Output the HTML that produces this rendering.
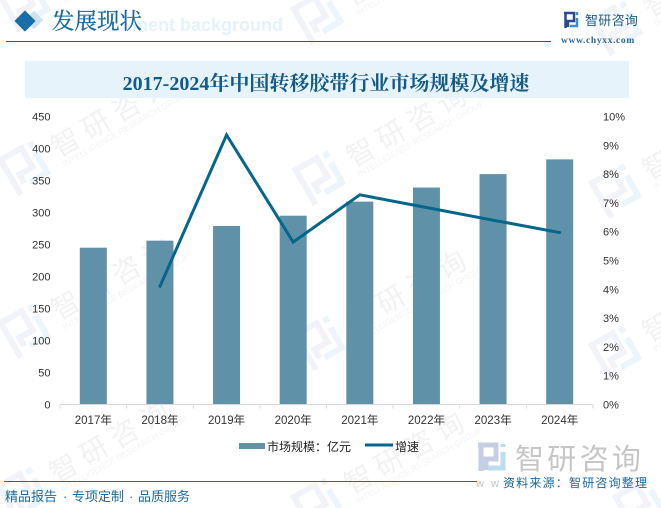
<!DOCTYPE html>
<html lang="zh">
<head>
<meta charset="utf-8">
<title>2017-2024年中国转移胶带行业市场规模及增速</title>
<style>
html,body{margin:0;padding:0;background:#fff;}
#page{position:relative;width:661px;height:508px;overflow:hidden;background:#fff;}
svg{position:absolute;left:0;top:0;}
text{font-family:"Liberation Sans","Noto Sans CJK SC",sans-serif;}
.serif{font-family:"Liberation Serif","Noto Serif CJK SC",serif;}
.tick{font-size:11px;fill:#333;}
.cat{font-size:11.5px;fill:#333;}
</style>
</head>
<body>
<div id="page">
<svg id="chart" width="661" height="508" viewBox="0 0 661 508">
  <defs>
    <g id="wm-logo">
      <path d="M-20 -19H7V3H-8V13M-17 -19V21" fill="none" stroke="#f1f3f8" stroke-width="6"/>
      <path d="M17 -8V15H-3M17 -20V-14" fill="none" stroke="#ecf5fb" stroke-width="6"/>
    </g>
  </defs>
  <g id="watermarks"></g>

  <g>
    <rect x="27.5" y="13.5" width="13" height="13" transform="rotate(45 34 20)" fill="#cfe2ee"/>
    <rect x="17.5" y="13.5" width="15" height="15" transform="rotate(45 25 21)" fill="#1a6ea8"/>
    <text x="132" y="31" font-size="18" font-weight="bold" fill="#e6f2fb">ment background</text>
    <text x="52" y="29" font-size="22.5" class="serif" fill="#1a6a9f" stroke="#1a6a9f" stroke-width="0.3">发展现状</text>
    <line x1="6" y1="41.5" x2="551" y2="41.5" stroke="#1b5e8a" stroke-width="1"/>
    <g>
      <path d="M564 13H574V21H568V27M565.500 13V28" fill="none" stroke="#2c4a94" stroke-width="2.500"/>
      <path d="M577 18V26H570M577 12V15" fill="none" stroke="#3d8fd0" stroke-width="2.500"/>
    </g>
    <text x="585" y="25" font-size="13" letter-spacing="0.300" fill="#1b5e8a">智研咨询</text>
    <text x="561" y="43" font-size="9.500" font-weight="bold" class="serif" letter-spacing="0.650" fill="#2b6a94">www.chyxx.com</text>
  </g>

  <rect x="25" y="61" width="604" height="37" fill="#e6f3fb"/>
  <text x="326" y="90" text-anchor="middle" font-size="20" font-weight="bold" class="serif" fill="#125a88">2017-2024年中国转移胶带行业市场规模及增速</text>

  <g id="plot"></g>

  <g>
    <g>
      <rect x="239" y="443" width="26" height="6" fill="#5f92a9"/>
      <text x="267" y="451" font-size="12" fill="#222">市场规模：亿元</text>
    </g>
    <g>
      <line x1="365" y1="445" x2="393" y2="445" stroke="#04668a" stroke-width="3"/>
      <text x="395" y="451" font-size="12" fill="#222">增速</text>
    </g>
  </g>

  <g>
    <g>
      <path d="M478 445H496V459H486V470M481 445V471" fill="none" stroke="#c4cfe3" stroke-width="5"/>
      <path d="M503 452V468H488M503 444V447" fill="none" stroke="#bcdcef" stroke-width="5"/>
    </g>
    <text x="515" y="469" font-size="29" letter-spacing="3.300" fill="#c6c6c6">智研咨询</text>
    <text x="476" y="487" font-size="11" letter-spacing="2" fill="#c6c6c6">w w w</text>
    <line x1="4" y1="481.500" x2="477" y2="481.500" stroke="#1b6a9c" stroke-width="1"/>
    <text x="503" y="487" font-size="12" letter-spacing="1.200" fill="#1b6a9c">资料来源：智研咨询整理</text>
    <text y="501" font-size="13" fill="#1b6a9c"><tspan x="5">精品报告</tspan><tspan x="63">·</tspan><tspan x="72">专项定制</tspan><tspan x="129">·</tspan><tspan x="138">品质服务</tspan></text>
  </g>
</svg>
</div>
<script>
const categories = ["2017年","2018年","2019年","2020年","2021年","2022年","2023年","2024年"];
const marketSize = [245,256,279,295,317,339,360,383];
const growthRate = [null,4.1,9.36,5.64,7.28,6.84,6.4,5.97];
const leftTicks = [0,50,100,150,200,250,300,350,400,450];
const rightTicks = [0,1,2,3,4,5,6,7,8,9,10];

const NS = "http://www.w3.org/2000/svg";
const plot = document.getElementById("plot");
const wmLayer = document.getElementById("watermarks");
const axisLeft = 60, axisRight = 593, axisBottom = 404.5, axisHeight = 288;
const leftMax = 450, rightMax = 10, barWidth = 27;
const bandWidth = (axisRight - axisLeft) / categories.length;
const xCenter = i => axisLeft + bandWidth * (i + 0.5);
const yLeft = v => axisBottom - v / leftMax * axisHeight;
const yRight = v => axisBottom - v / rightMax * axisHeight;

function make(tag, attrs, parent, text) {
  const el = document.createElementNS(NS, tag);
  Object.keys(attrs).forEach(k => el.setAttribute(k, attrs[k]));
  if (text !== undefined) el.textContent = text;
  parent.appendChild(el);
  return el;
}

const wmOrigins = [[25,5],[318,17],[617,28],[25,168],[320,178],[616,191],[25,331],[320,343],[616,353],[23,494],[318,505],[640,505]];
wmOrigins.forEach(o => {
  const g = make("g", {transform: "translate(" + o[0] + " " + o[1] + ") rotate(-30)"}, wmLayer);
  
  
  const logo = make("use", {href: "#wm-logo", x: 0, y: 0}, g);
  
  
  const brand = make("text", {x: 34, y: 8, "font-size": 28, "letter-spacing": 7, fill: "#f2f2f2"}, g, "智研咨询");
  
  
  const sub = make("text", {x: 35, y: 19, "font-size": 8.5, fill: "#f3f3f3"}, g, "INTELLIGENCE RESEARCH GROUP");
  
  
});

marketSize.forEach((v, i) => {
  const bar = make("rect", {x: xCenter(i) - barWidth / 2, y: yLeft(v), width: barWidth, height: axisBottom - yLeft(v), fill: "#5f92a9"}, plot);
  
  
});

const axisLine = make("line", {x1: axisLeft, y1: axisBottom, x2: axisRight, y2: axisBottom, stroke: "#d9d9d9", "stroke-width": 1}, plot);



for (let i = 0; i <= categories.length; i++) {
  const tx = axisLeft + bandWidth * i;
  const tick = make("line", {x1: tx, y1: axisBottom, x2: tx, y2: axisBottom + 4, stroke: "#d9d9d9", "stroke-width": 1}, plot);
  
  
}

categories.forEach((c, i) => {
  const label = make("text", {x: xCenter(i), y: 424, "text-anchor": "middle", class: "cat"}, plot, c);
  
  
});

leftTicks.forEach(v => {
  const label = make("text", {x: 50.5, y: yLeft(v) + 4, "text-anchor": "end", class: "tick"}, plot, String(v));
  
  
});

rightTicks.forEach(v => {
  const label = make("text", {x: 603, y: yRight(v) + 4, class: "tick"}, plot, v + "%");
  
  
});

const linePoints = [];
growthRate.forEach((v, i) => {
  if (v !== null) linePoints.push(xCenter(i) + "," + yRight(v));
});
const growthLine = make("polyline", {points: linePoints.join(" "), fill: "none", stroke: "#04668a", "stroke-width": 3, "stroke-linejoin": "miter", "stroke-linecap": "round"}, plot);


</script>
</body>
</html>
